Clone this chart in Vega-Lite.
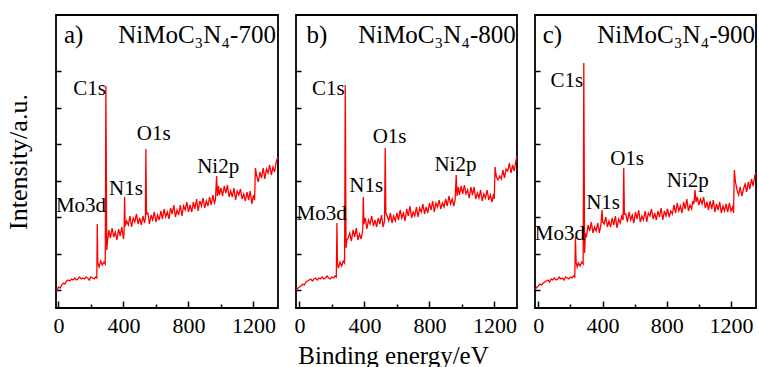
{
  "$schema": "https://vega.github.io/schema/vega-lite/v6.json",
  "background": "white",
  "padding": {"left": 4, "top": 14, "right": 0, "bottom": 0},
  "bounds": "flush",
  "spacing": 18,
  "config": {
    "view": {"stroke": "black", "strokeWidth": 1.8},
    "font": "Liberation Serif",
    "axis": {
      "domain": false,
      "grid": false,
      "labelFont": "Liberation Serif",
      "titleFont": "Liberation Serif",
      "labelColor": "black",
      "titleColor": "black",
      "titleFontWeight": "normal",
      "tickColor": "black",
      "tickWidth": 1.5
    }
  },
  "datasets": {
    "xps": [
      {"s":"a","e":-12,"i":17},{"s":"a","e":-5,"i":19},{"s":"a","e":0,"i":21},{"s":"a","e":10,"i":20},{"s":"a","e":20,"i":23},{"s":"a","e":30,"i":25},{"s":"a","e":40,"i":24},{"s":"a","e":50,"i":27},{"s":"a","e":60,"i":28},{"s":"a","e":70,"i":27},{"s":"a","e":80,"i":29},{"s":"a","e":90,"i":28},{"s":"a","e":100,"i":30},{"s":"a","e":110,"i":28},{"s":"a","e":120,"i":29},{"s":"a","e":130,"i":31},{"s":"a","e":140,"i":29},{"s":"a","e":150,"i":30},{"s":"a","e":160,"i":29},{"s":"a","e":170,"i":31},{"s":"a","e":180,"i":30},{"s":"a","e":190,"i":28},{"s":"a","e":200,"i":31},{"s":"a","e":210,"i":30},{"s":"a","e":220,"i":29},{"s":"a","e":230,"i":31},{"s":"a","e":236,"i":30},
      {"s":"a","e":239,"i":84},{"s":"a","e":242,"i":45},{"s":"a","e":250,"i":41},{"s":"a","e":260,"i":47},{"s":"a","e":270,"i":43},{"s":"a","e":280,"i":46},{"s":"a","e":288,"i":44},
      {"s":"a","e":292,"i":222},{"s":"a","e":297,"i":58},{"s":"a","e":302,"i":66},{"s":"a","e":310,"i":78},{"s":"a","e":320,"i":70},{"s":"a","e":330,"i":80},{"s":"a","e":340,"i":71},{"s":"a","e":350,"i":76},{"s":"a","e":360,"i":68},{"s":"a","e":370,"i":79},{"s":"a","e":380,"i":72},{"s":"a","e":390,"i":81},{"s":"a","e":400,"i":69},{"s":"a","e":404,"i":75},
      {"s":"a","e":407,"i":111},{"s":"a","e":411,"i":82},{"s":"a","e":420,"i":87},{"s":"a","e":430,"i":83},{"s":"a","e":440,"i":92},{"s":"a","e":450,"i":81},{"s":"a","e":460,"i":90},{"s":"a","e":470,"i":86},{"s":"a","e":480,"i":94},{"s":"a","e":490,"i":84},{"s":"a","e":500,"i":90},{"s":"a","e":510,"i":83},{"s":"a","e":520,"i":92},{"s":"a","e":530,"i":85},{"s":"a","e":535,"i":90},
      {"s":"a","e":538,"i":159},{"s":"a","e":542,"i":94},{"s":"a","e":550,"i":95},{"s":"a","e":560,"i":84},{"s":"a","e":570,"i":93},{"s":"a","e":580,"i":88},{"s":"a","e":590,"i":96},{"s":"a","e":600,"i":86},{"s":"a","e":610,"i":93},{"s":"a","e":620,"i":88},{"s":"a","e":630,"i":97},{"s":"a","e":640,"i":89},{"s":"a","e":650,"i":99},{"s":"a","e":660,"i":91},{"s":"a","e":670,"i":96},{"s":"a","e":680,"i":89},{"s":"a","e":690,"i":100},{"s":"a","e":700,"i":94},{"s":"a","e":710,"i":103},{"s":"a","e":720,"i":91},{"s":"a","e":730,"i":98},{"s":"a","e":740,"i":93},{"s":"a","e":750,"i":103},{"s":"a","e":760,"i":92},{"s":"a","e":770,"i":102},{"s":"a","e":780,"i":98},
      {"s":"a","e":790,"i":106},{"s":"a","e":800,"i":96},{"s":"a","e":810,"i":103},{"s":"a","e":820,"i":96},{"s":"a","e":830,"i":106},{"s":"a","e":840,"i":99},{"s":"a","e":850,"i":109},{"s":"a","e":860,"i":97},{"s":"a","e":870,"i":107},{"s":"a","e":880,"i":102},{"s":"a","e":890,"i":110},{"s":"a","e":900,"i":100},{"s":"a","e":910,"i":107},{"s":"a","e":920,"i":102},{"s":"a","e":930,"i":111},{"s":"a","e":940,"i":103},{"s":"a","e":950,"i":113},{"s":"a","e":960,"i":105},{"s":"a","e":966,"i":108},
      {"s":"a","e":973,"i":132},{"s":"a","e":978,"i":112},{"s":"a","e":985,"i":122},{"s":"a","e":990,"i":113},{"s":"a","e":1000,"i":120},{"s":"a","e":1010,"i":112},{"s":"a","e":1020,"i":122},{"s":"a","e":1030,"i":115},{"s":"a","e":1040,"i":123},{"s":"a","e":1050,"i":111},{"s":"a","e":1060,"i":117},{"s":"a","e":1070,"i":111},{"s":"a","e":1080,"i":120},{"s":"a","e":1090,"i":108},{"s":"a","e":1100,"i":117},{"s":"a","e":1110,"i":113},{"s":"a","e":1120,"i":119},{"s":"a","e":1130,"i":109},{"s":"a","e":1140,"i":114},{"s":"a","e":1150,"i":107},{"s":"a","e":1160,"i":116},{"s":"a","e":1170,"i":108},{"s":"a","e":1180,"i":117},{"s":"a","e":1190,"i":104},{"s":"a","e":1200,"i":113},{"s":"a","e":1207,"i":108},
      {"s":"a","e":1212,"i":140},{"s":"a","e":1220,"i":132},{"s":"a","e":1230,"i":126},{"s":"a","e":1240,"i":136},{"s":"a","e":1250,"i":130},{"s":"a","e":1260,"i":140},{"s":"a","e":1270,"i":129},{"s":"a","e":1280,"i":139},{"s":"a","e":1290,"i":135},{"s":"a","e":1300,"i":143},{"s":"a","e":1310,"i":133},{"s":"a","e":1320,"i":141},{"s":"a","e":1330,"i":136},{"s":"a","e":1340,"i":146},{"s":"a","e":1350,"i":151},

      {"s":"b","e":-20,"i":18},{"s":"b","e":-8,"i":20},{"s":"b","e":0,"i":21},{"s":"b","e":10,"i":22},{"s":"b","e":20,"i":24},{"s":"b","e":30,"i":23},{"s":"b","e":40,"i":26},{"s":"b","e":50,"i":27},{"s":"b","e":60,"i":28},{"s":"b","e":70,"i":29},{"s":"b","e":80,"i":27},{"s":"b","e":90,"i":29},{"s":"b","e":100,"i":30},{"s":"b","e":110,"i":28},{"s":"b","e":120,"i":30},{"s":"b","e":130,"i":29},{"s":"b","e":140,"i":31},{"s":"b","e":150,"i":29},{"s":"b","e":160,"i":30},{"s":"b","e":170,"i":32},{"s":"b","e":180,"i":30},{"s":"b","e":190,"i":29},{"s":"b","e":200,"i":31},{"s":"b","e":210,"i":30},{"s":"b","e":220,"i":32},{"s":"b","e":227,"i":31},
      {"s":"b","e":231,"i":85},{"s":"b","e":234,"i":44},{"s":"b","e":240,"i":40},{"s":"b","e":250,"i":46},{"s":"b","e":260,"i":42},{"s":"b","e":270,"i":47},{"s":"b","e":278,"i":45},
      {"s":"b","e":282,"i":223},{"s":"b","e":287,"i":60},{"s":"b","e":292,"i":68},{"s":"b","e":300,"i":70},{"s":"b","e":310,"i":75},{"s":"b","e":320,"i":67},{"s":"b","e":330,"i":78},{"s":"b","e":340,"i":71},{"s":"b","e":350,"i":80},{"s":"b","e":360,"i":68},{"s":"b","e":370,"i":74},{"s":"b","e":380,"i":69},{"s":"b","e":387,"i":75},{"s":"b","e":390,"i":80},
      {"s":"b","e":393,"i":111},{"s":"b","e":397,"i":84},{"s":"b","e":405,"i":90},{"s":"b","e":415,"i":79},{"s":"b","e":425,"i":88},{"s":"b","e":435,"i":84},{"s":"b","e":445,"i":92},{"s":"b","e":455,"i":82},{"s":"b","e":465,"i":88},{"s":"b","e":475,"i":81},{"s":"b","e":485,"i":90},{"s":"b","e":495,"i":84},{"s":"b","e":505,"i":93},{"s":"b","e":515,"i":81},{"s":"b","e":524,"i":87},
      {"s":"b","e":528,"i":160},{"s":"b","e":532,"i":95},{"s":"b","e":540,"i":92},{"s":"b","e":550,"i":87},{"s":"b","e":560,"i":95},{"s":"b","e":570,"i":85},{"s":"b","e":580,"i":92},{"s":"b","e":590,"i":87},{"s":"b","e":600,"i":95},{"s":"b","e":610,"i":88},{"s":"b","e":620,"i":98},{"s":"b","e":630,"i":90},{"s":"b","e":640,"i":95},{"s":"b","e":650,"i":87},{"s":"b","e":660,"i":99},{"s":"b","e":670,"i":92},{"s":"b","e":680,"i":102},{"s":"b","e":690,"i":90},{"s":"b","e":700,"i":96},{"s":"b","e":710,"i":92},{"s":"b","e":720,"i":101},{"s":"b","e":730,"i":91},{"s":"b","e":740,"i":100},{"s":"b","e":750,"i":96},{"s":"b","e":760,"i":104},{"s":"b","e":770,"i":94},{"s":"b","e":780,"i":101},
      {"s":"b","e":790,"i":95},{"s":"b","e":800,"i":105},{"s":"b","e":810,"i":98},{"s":"b","e":820,"i":107},{"s":"b","e":830,"i":96},{"s":"b","e":840,"i":105},{"s":"b","e":850,"i":101},{"s":"b","e":860,"i":108},{"s":"b","e":870,"i":99},{"s":"b","e":880,"i":105},{"s":"b","e":890,"i":101},{"s":"b","e":900,"i":109},{"s":"b","e":910,"i":102},{"s":"b","e":920,"i":112},{"s":"b","e":930,"i":104},{"s":"b","e":940,"i":109},{"s":"b","e":950,"i":102},{"s":"b","e":958,"i":108},
      {"s":"b","e":965,"i":133},{"s":"b","e":970,"i":112},{"s":"b","e":978,"i":121},{"s":"b","e":985,"i":113},{"s":"b","e":995,"i":122},{"s":"b","e":1005,"i":114},{"s":"b","e":1015,"i":123},{"s":"b","e":1025,"i":114},{"s":"b","e":1035,"i":118},{"s":"b","e":1045,"i":110},{"s":"b","e":1055,"i":121},{"s":"b","e":1065,"i":113},{"s":"b","e":1075,"i":121},{"s":"b","e":1085,"i":109},{"s":"b","e":1095,"i":115},{"s":"b","e":1105,"i":110},{"s":"b","e":1115,"i":118},{"s":"b","e":1125,"i":107},{"s":"b","e":1135,"i":114},{"s":"b","e":1145,"i":110},{"s":"b","e":1155,"i":118},{"s":"b","e":1165,"i":108},{"s":"b","e":1175,"i":113},{"s":"b","e":1185,"i":106},{"s":"b","e":1195,"i":114},{"s":"b","e":1199,"i":109},
      {"s":"b","e":1204,"i":141},{"s":"b","e":1212,"i":131},{"s":"b","e":1222,"i":128},{"s":"b","e":1232,"i":132},{"s":"b","e":1242,"i":129},{"s":"b","e":1252,"i":138},{"s":"b","e":1262,"i":130},{"s":"b","e":1272,"i":139},{"s":"b","e":1282,"i":137},{"s":"b","e":1292,"i":145},{"s":"b","e":1302,"i":135},{"s":"b","e":1312,"i":143},{"s":"b","e":1322,"i":137},{"s":"b","e":1330,"i":145},{"s":"b","e":1338,"i":152},

      {"s":"c","e":-19,"i":19},{"s":"c","e":-8,"i":21},{"s":"c","e":0,"i":22},{"s":"c","e":10,"i":24},{"s":"c","e":20,"i":23},{"s":"c","e":30,"i":25},{"s":"c","e":40,"i":26},{"s":"c","e":50,"i":27},{"s":"c","e":60,"i":28},{"s":"c","e":70,"i":26},{"s":"c","e":80,"i":29},{"s":"c","e":90,"i":28},{"s":"c","e":100,"i":30},{"s":"c","e":110,"i":28},{"s":"c","e":120,"i":29},{"s":"c","e":130,"i":31},{"s":"c","e":140,"i":29},{"s":"c","e":150,"i":30},{"s":"c","e":160,"i":28},{"s":"c","e":170,"i":31},{"s":"c","e":180,"i":30},{"s":"c","e":190,"i":29},{"s":"c","e":200,"i":31},{"s":"c","e":210,"i":30},{"s":"c","e":220,"i":32},{"s":"c","e":227,"i":31},
      {"s":"c","e":231,"i":71},{"s":"c","e":235,"i":46},{"s":"c","e":242,"i":41},{"s":"c","e":250,"i":45},{"s":"c","e":260,"i":42},{"s":"c","e":270,"i":46},{"s":"c","e":279,"i":44},
      {"s":"c","e":283,"i":245},{"s":"c","e":288,"i":55},{"s":"c","e":293,"i":74},{"s":"c","e":300,"i":72},{"s":"c","e":310,"i":83},{"s":"c","e":320,"i":77},{"s":"c","e":330,"i":86},{"s":"c","e":340,"i":75},{"s":"c","e":350,"i":81},{"s":"c","e":360,"i":77},{"s":"c","e":370,"i":85},{"s":"c","e":380,"i":75},{"s":"c","e":390,"i":84},
      {"s":"c","e":397,"i":98},{"s":"c","e":401,"i":86},{"s":"c","e":410,"i":84},{"s":"c","e":420,"i":91},{"s":"c","e":430,"i":81},{"s":"c","e":440,"i":87},{"s":"c","e":450,"i":81},{"s":"c","e":460,"i":90},{"s":"c","e":470,"i":83},{"s":"c","e":480,"i":92},{"s":"c","e":490,"i":80},{"s":"c","e":500,"i":89},{"s":"c","e":510,"i":85},{"s":"c","e":520,"i":92},{"s":"c","e":528,"i":88},
      {"s":"c","e":532,"i":140},{"s":"c","e":536,"i":94},{"s":"c","e":545,"i":94},{"s":"c","e":555,"i":86},{"s":"c","e":565,"i":96},{"s":"c","e":575,"i":88},{"s":"c","e":585,"i":93},{"s":"c","e":595,"i":85},{"s":"c","e":605,"i":96},{"s":"c","e":615,"i":89},{"s":"c","e":625,"i":98},{"s":"c","e":635,"i":86},{"s":"c","e":645,"i":92},{"s":"c","e":655,"i":88},{"s":"c","e":665,"i":97},{"s":"c","e":675,"i":86},{"s":"c","e":685,"i":95},{"s":"c","e":695,"i":92},{"s":"c","e":705,"i":99},{"s":"c","e":715,"i":89},{"s":"c","e":725,"i":95},{"s":"c","e":735,"i":88},{"s":"c","e":745,"i":97},{"s":"c","e":755,"i":91},{"s":"c","e":765,"i":100},{"s":"c","e":775,"i":88},{"s":"c","e":785,"i":97},{"s":"c","e":795,"i":92},{"s":"c","e":805,"i":99},{"s":"c","e":815,"i":91},{"s":"c","e":825,"i":97},
      {"s":"c","e":835,"i":94},{"s":"c","e":845,"i":103},{"s":"c","e":855,"i":95},{"s":"c","e":865,"i":105},{"s":"c","e":875,"i":97},{"s":"c","e":885,"i":102},{"s":"c","e":895,"i":95},{"s":"c","e":905,"i":106},{"s":"c","e":915,"i":99},{"s":"c","e":925,"i":109},{"s":"c","e":935,"i":97},{"s":"c","e":945,"i":103},{"s":"c","e":955,"i":99},{"s":"c","e":962,"i":107},{"s":"c","e":969,"i":104},
      {"s":"c","e":976,"i":118},{"s":"c","e":982,"i":106},{"s":"c","e":990,"i":111},{"s":"c","e":1000,"i":103},{"s":"c","e":1010,"i":109},{"s":"c","e":1020,"i":104},{"s":"c","e":1030,"i":111},{"s":"c","e":1040,"i":100},{"s":"c","e":1050,"i":106},{"s":"c","e":1060,"i":98},{"s":"c","e":1070,"i":107},{"s":"c","e":1080,"i":99},{"s":"c","e":1090,"i":108},{"s":"c","e":1100,"i":96},{"s":"c","e":1110,"i":104},{"s":"c","e":1120,"i":98},{"s":"c","e":1130,"i":106},{"s":"c","e":1140,"i":95},{"s":"c","e":1150,"i":102},{"s":"c","e":1160,"i":97},{"s":"c","e":1170,"i":104},{"s":"c","e":1180,"i":96},{"s":"c","e":1190,"i":105},{"s":"c","e":1200,"i":97},{"s":"c","e":1210,"i":101},{"s":"c","e":1216,"i":95},
      {"s":"c","e":1221,"i":138},{"s":"c","e":1228,"i":126},{"s":"c","e":1238,"i":118},{"s":"c","e":1248,"i":113},{"s":"c","e":1258,"i":121},{"s":"c","e":1268,"i":112},{"s":"c","e":1278,"i":119},{"s":"c","e":1288,"i":124},{"s":"c","e":1298,"i":116},{"s":"c","e":1308,"i":126},{"s":"c","e":1318,"i":119},{"s":"c","e":1328,"i":129},{"s":"c","e":1338,"i":122},{"s":"c","e":1348,"i":132},{"s":"c","e":1355,"i":135}
    ],
    "notes": [
      {"s":"a","k":"tag","e":34,"i":265,"t":"a)"},
      {"s":"a","k":"name","e":1338,"i":265,"t":"NiMoC₃N₄-700"},
      {"s":"a","k":"peak","e":192,"i":213,"t":"C1s"},
      {"s":"a","k":"peak","e":586,"i":168,"t":"O1s"},
      {"s":"a","k":"peak","e":415,"i":113,"t":"N1s"},
      {"s":"a","k":"peak","e":139,"i":96,"t":"Mo3d"},
      {"s":"a","k":"peak","e":983,"i":135,"t":"Ni2p"},
      {"s":"b","k":"tag","e":44,"i":265,"t":"b)"},
      {"s":"b","k":"name","e":1332,"i":265,"t":"NiMoC₃N₄-800"},
      {"s":"b","k":"peak","e":178,"i":213,"t":"C1s"},
      {"s":"b","k":"peak","e":555,"i":165,"t":"O1s"},
      {"s":"b","k":"peak","e":411,"i":116,"t":"N1s"},
      {"s":"b","k":"peak","e":137,"i":88,"t":"Mo3d"},
      {"s":"b","k":"peak","e":960,"i":137,"t":"Ni2p"},
      {"s":"c","k":"tag","e":27,"i":265,"t":"c)"},
      {"s":"c","k":"name","e":1350,"i":265,"t":"NiMoC₃N₄-900"},
      {"s":"c","k":"peak","e":178,"i":221,"t":"C1s"},
      {"s":"c","k":"peak","e":553,"i":143,"t":"O1s"},
      {"s":"c","k":"peak","e":403,"i":99,"t":"N1s"},
      {"s":"c","k":"peak","e":134,"i":68,"t":"Mo3d"},
      {"s":"c","k":"peak","e":931,"i":121,"t":"Ni2p"}
    ]
  },
  "hconcat": [
    {
      "width": 222,
      "height": 293,
      "encoding": {
        "x": {"field": "e", "type": "quantitative", "scale": {"domain": [-15, 1351], "nice": false, "zero": false},
              "axis": {"title": null, "values": [0, 200, 400, 600, 800, 1000, 1200], "format": "d", "labelExpr": "datum.value % 400 === 0 ? datum.label : ''", "labelFontSize": 22, "labelPadding": 14, "tickSize": {"condition": {"test": "datum.value % 400 === 0", "value": -7}, "value": -4}}},
        "y": {"field": "i", "type": "quantitative", "scale": {"domain": [0, 293], "nice": false, "zero": false},
              "axis": {"title": "Intensity/a.u.", "titleFontSize": 26, "titlePadding": 24, "labels": false, "values": [18, 54.5, 91, 127.5, 164, 200.5, 237], "tickSize": -5}}
      },
      "layer": [
        {"data": {"name": "xps"}, "transform": [{"filter": "datum.s === 'a'"}], "mark": {"type": "line", "color": "#ff0000", "strokeWidth": 1.3}},
        {"data": {"name": "notes"}, "transform": [{"filter": "datum.s === 'a' && datum.k === 'peak'"}], "mark": {"type": "text", "font": "Liberation Serif", "fontSize": 21, "align": "center", "baseline": "alphabetic", "color": "black"}, "encoding": {"text": {"field": "t"}}},
        {"data": {"name": "notes"}, "transform": [{"filter": "datum.s === 'a' && datum.k === 'tag'"}], "mark": {"type": "text", "font": "Liberation Serif", "fontSize": 25, "align": "left", "baseline": "alphabetic", "color": "black"}, "encoding": {"text": {"field": "t"}}},
        {"data": {"name": "notes"}, "transform": [{"filter": "datum.s === 'a' && datum.k === 'name'"}], "mark": {"type": "text", "font": "Liberation Serif", "fontSize": 25, "align": "right", "baseline": "alphabetic", "color": "black"}, "encoding": {"text": {"field": "t"}}}
      ]
    },
    {
      "width": 221,
      "height": 293,
      "encoding": {
        "x": {"field": "e", "type": "quantitative", "scale": {"domain": [-21, 1339], "nice": false, "zero": false},
              "axis": {"title": "Binding energy/eV", "titleFontSize": 25, "titlePadding": 7, "titleX": 97, "values": [0, 200, 400, 600, 800, 1000, 1200], "format": "d", "labelExpr": "datum.value % 400 === 0 ? datum.label : ''", "labelFontSize": 22, "labelPadding": 14, "tickSize": {"condition": {"test": "datum.value % 400 === 0", "value": -7}, "value": -4}}},
        "y": {"field": "i", "type": "quantitative", "scale": {"domain": [0, 293], "nice": false, "zero": false},
              "axis": {"title": null, "labels": false, "values": [18, 54.5, 91, 127.5, 164, 200.5, 237], "tickSize": -5}}
      },
      "layer": [
        {"data": {"name": "xps"}, "transform": [{"filter": "datum.s === 'b'"}], "mark": {"type": "line", "color": "#ff0000", "strokeWidth": 1.3}},
        {"data": {"name": "notes"}, "transform": [{"filter": "datum.s === 'b' && datum.k === 'peak'"}], "mark": {"type": "text", "font": "Liberation Serif", "fontSize": 21, "align": "center", "baseline": "alphabetic", "color": "black"}, "encoding": {"text": {"field": "t"}}},
        {"data": {"name": "notes"}, "transform": [{"filter": "datum.s === 'b' && datum.k === 'tag'"}], "mark": {"type": "text", "font": "Liberation Serif", "fontSize": 25, "align": "left", "baseline": "alphabetic", "color": "black"}, "encoding": {"text": {"field": "t"}}},
        {"data": {"name": "notes"}, "transform": [{"filter": "datum.s === 'b' && datum.k === 'name'"}], "mark": {"type": "text", "font": "Liberation Serif", "fontSize": 25, "align": "right", "baseline": "alphabetic", "color": "black"}, "encoding": {"text": {"field": "t"}}}
      ]
    },
    {
      "width": 221,
      "height": 293,
      "encoding": {
        "x": {"field": "e", "type": "quantitative", "scale": {"domain": [-21, 1356], "nice": false, "zero": false},
              "axis": {"title": null, "values": [0, 200, 400, 600, 800, 1000, 1200], "format": "d", "labelExpr": "datum.value % 400 === 0 ? datum.label : ''", "labelFontSize": 22, "labelPadding": 14, "tickSize": {"condition": {"test": "datum.value % 400 === 0", "value": -7}, "value": -4}}},
        "y": {"field": "i", "type": "quantitative", "scale": {"domain": [0, 293], "nice": false, "zero": false},
              "axis": {"title": null, "labels": false, "values": [18, 54.5, 91, 127.5, 164, 200.5, 237], "tickSize": -5}}
      },
      "layer": [
        {"data": {"name": "xps"}, "transform": [{"filter": "datum.s === 'c'"}], "mark": {"type": "line", "color": "#ff0000", "strokeWidth": 1.3}},
        {"data": {"name": "notes"}, "transform": [{"filter": "datum.s === 'c' && datum.k === 'peak'"}], "mark": {"type": "text", "font": "Liberation Serif", "fontSize": 21, "align": "center", "baseline": "alphabetic", "color": "black"}, "encoding": {"text": {"field": "t"}}},
        {"data": {"name": "notes"}, "transform": [{"filter": "datum.s === 'c' && datum.k === 'tag'"}], "mark": {"type": "text", "font": "Liberation Serif", "fontSize": 25, "align": "left", "baseline": "alphabetic", "color": "black"}, "encoding": {"text": {"field": "t"}}},
        {"data": {"name": "notes"}, "transform": [{"filter": "datum.s === 'c' && datum.k === 'name'"}], "mark": {"type": "text", "font": "Liberation Serif", "fontSize": 25, "align": "right", "baseline": "alphabetic", "color": "black"}, "encoding": {"text": {"field": "t"}}}
      ]
    }
  ]
}
